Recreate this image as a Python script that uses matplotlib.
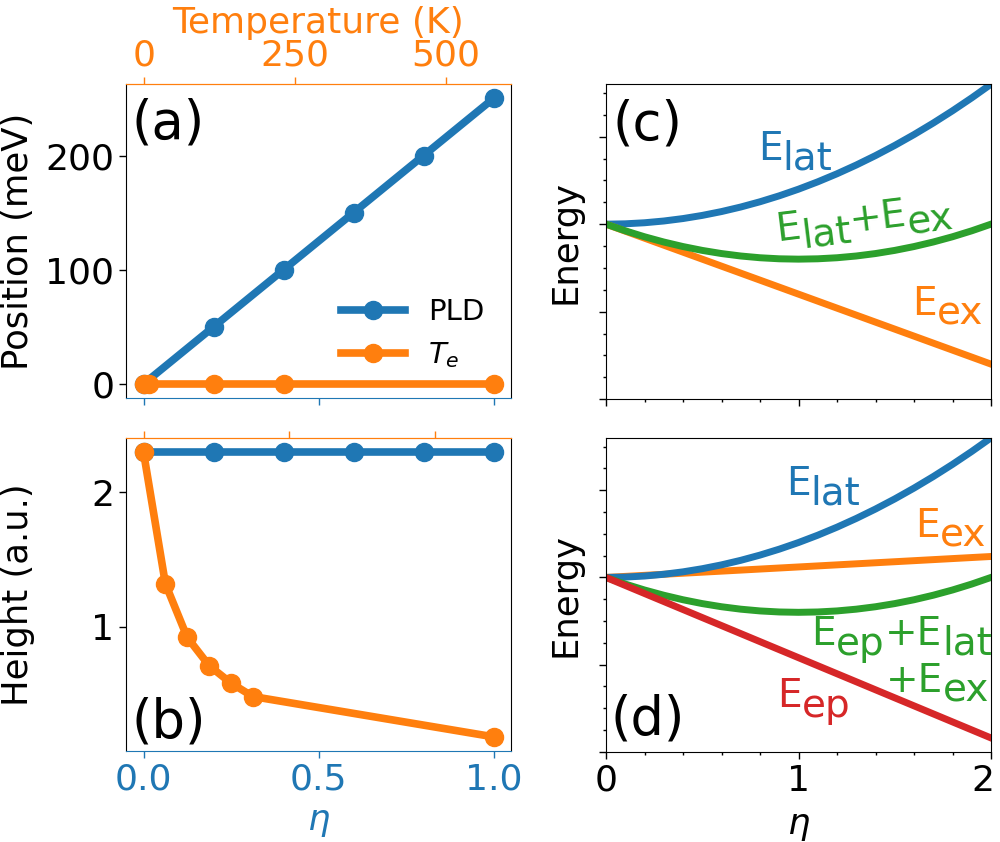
import matplotlib
matplotlib.use("Agg")
import matplotlib.pyplot as plt
from matplotlib.ticker import MultipleLocator
from matplotlib.font_manager import FontProperties
from matplotlib.transforms import offset_copy, ScaledTranslation
import numpy as np

# ---------------- data ----------------
# panel (a)
pld_eta = [0.0, 0.2, 0.4, 0.6, 0.8, 1.0]
pld_pos = [0, 50, 100, 150, 200, 250]
te_eta_a = [0.0, 0.017, 0.2, 0.4, 1.0]
te_pos = [0, 0, 0, 0, 0]
# panel (b)
pld_height = [2.30, 2.30, 2.30, 2.30, 2.30, 2.30]
te_eta_b = [0.0, 0.0625, 0.125, 0.1875, 0.25, 0.3125, 1.0]
te_height = [2.30, 1.32, 0.92, 0.71, 0.58, 0.48, 0.18]
# top temperature axes ranges (K)
temp_ticks = [0, 250, 500]
temp_lim_a = (-29.8, 607.6)
temp_lim_b = (-30.9, 630.6)

# panels (c), (d): energies
eta = [0.0, 0.1, 0.2, 0.3, 0.4, 0.5, 0.6, 0.7, 0.8, 0.9, 1.0,
       1.1, 1.2, 1.3, 1.4, 1.5, 1.6, 1.7, 1.8, 1.9, 2.0]
e_lat = [0.0, 0.004, 0.016, 0.036, 0.064, 0.100, 0.144, 0.196, 0.256, 0.324, 0.400,
         0.484, 0.576, 0.676, 0.784, 0.900, 1.024, 1.156, 1.296, 1.444, 1.600]
e_ex_c = [0.0, -0.08, -0.16, -0.24, -0.32, -0.40, -0.48, -0.56, -0.64, -0.72, -0.80,
          -0.88, -0.96, -1.04, -1.12, -1.20, -1.28, -1.36, -1.44, -1.52, -1.60]
e_sum_c = [0.0, -0.076, -0.144, -0.204, -0.256, -0.300, -0.336, -0.364, -0.384, -0.396, -0.400,
           -0.396, -0.384, -0.364, -0.336, -0.300, -0.256, -0.204, -0.144, -0.076, 0.0]
e_ex_d = [0.0, 0.012, 0.024, 0.036, 0.048, 0.060, 0.072, 0.084, 0.096, 0.108, 0.120,
          0.132, 0.144, 0.156, 0.168, 0.180, 0.192, 0.204, 0.216, 0.228, 0.240]
e_ep_d = [0.0, -0.092, -0.184, -0.276, -0.368, -0.460, -0.552, -0.644, -0.736, -0.828, -0.920,
          -1.012, -1.104, -1.196, -1.288, -1.380, -1.472, -1.564, -1.656, -1.748, -1.840]
e_sum_d = e_sum_c

BLUE = "#1f77b4"
ORANGE = "#ff7f0e"
GREEN = "#2ca02c"
RED = "#d62728"

TFS = 26   # tick labels
LFS = 25.5 # axis labels
plt.rcParams["font.family"] = ["DejaVu Sans"]
plt.rcParams["mathtext.fontset"] = "dejavusans"

fig = plt.figure(figsize=(10, 8.42), dpi=100)

axa = fig.add_axes([0.126, 0.527, 0.385, 0.373])
axb = fig.add_axes([0.126, 0.108, 0.385, 0.372])
axc = fig.add_axes([0.606, 0.526, 0.385, 0.374])
axd = fig.add_axes([0.606, 0.107, 0.385, 0.373])

LW = 5.5
MS = 13

# ---- (a) ----
axa.plot(pld_eta, pld_pos, "-o", color=BLUE, lw=LW, ms=MS, label="PLD")
axa.plot(te_eta_a, te_pos, "-o", color=ORANGE, lw=LW, ms=MS, label="$T_e$")
axa.set_xlim(-0.05, 1.05)
axa.set_ylim(-12.5, 262.5)
axa.set_yticks([0, 100, 200])
axa.set_xticks([0.0, 0.5, 1.0])
axa.tick_params(axis="x", colors=BLUE, labelbottom=False, length=5, width=1)
axa.tick_params(axis="y", labelsize=TFS, length=5, width=1)
axa.set_ylabel("Position (meV)", fontsize=LFS)
axa.yaxis.set_label_coords(-0.236, 0.5)
axa.spines["bottom"].set_color(BLUE)
axa.spines["top"].set_color(ORANGE)
axa.text(0.015, 0.828, "(a)", transform=axa.transAxes, fontsize=38, va="baseline", ha="left")
leg = axa.legend(loc="lower right", bbox_to_anchor=(1.0, 0.005), frameon=False,
                 fontsize=21, handlelength=2.2)

ta = axa.twiny()
ta.set_xlim(*temp_lim_a)
ta.set_xticks(temp_ticks)
ta.tick_params(axis="x", colors=ORANGE, labelsize=TFS, length=5, width=1)
ta.set_xlabel("Temperature (K)", color=ORANGE, fontsize=TFS)
for s in ["bottom", "left", "right"]:
    ta.spines[s].set_visible(False)
ta.spines["top"].set_color(ORANGE)

# ---- (b) ----
axb.plot(pld_eta, pld_height, "-o", color=BLUE, lw=LW, ms=MS)
axb.plot(te_eta_b, te_height, "-o", color=ORANGE, lw=LW, ms=MS)
axb.set_xlim(-0.05, 1.05)
axb.set_ylim(0.074, 2.406)
axb.set_yticks([1, 2])
axb.set_xticks([0.0, 0.5, 1.0])
axb.tick_params(axis="x", colors=BLUE, labelsize=TFS, length=5, width=1)
axb.tick_params(axis="y", labelsize=TFS, length=5, width=1)
axb.set_ylabel("Height (a.u.)", fontsize=LFS)
axb.yaxis.set_label_coords(-0.236, 0.5)
axb.set_xlabel(r"$\eta$", fontsize=LFS, color=BLUE, labelpad=6)
axb.spines["bottom"].set_color(BLUE)
axb.spines["top"].set_color(ORANGE)
axb.text(0.015, 0.042, "(b)", transform=axb.transAxes, fontsize=38, va="baseline", ha="left")

tb = axb.twiny()
tb.set_xlim(*temp_lim_b)
tb.set_xticks(temp_ticks)
tb.tick_params(axis="x", colors=ORANGE, labeltop=False, length=5, width=1)
for s in ["bottom", "left", "right"]:
    tb.spines[s].set_visible(False)
tb.spines["top"].set_color(ORANGE)

# ---- (c), (d) ----
LW2 = 5
axc.plot(eta, e_lat, color=BLUE, lw=LW2)
axc.plot(eta, e_ex_c, color=ORANGE, lw=LW2)
axc.plot(eta, e_sum_c, color=GREEN, lw=LW2)

axd.plot(eta, e_ex_d, color=ORANGE, lw=LW2)
axd.plot(eta, e_lat, color=BLUE, lw=LW2)
axd.plot(eta, e_sum_d, color=GREEN, lw=LW2)
axd.plot(eta, e_ep_d, color=RED, lw=LW2)

for ax in (axc, axd):
    ax.set_xlim(0, 2)
    ax.set_ylim(-2, 1.6)
    ax.xaxis.set_major_locator(MultipleLocator(1))
    ax.xaxis.set_minor_locator(MultipleLocator(0.2))
    ax.yaxis.set_major_locator(MultipleLocator(1))
    ax.yaxis.set_minor_locator(MultipleLocator(0.25))
    ax.tick_params(which="major", length=5, width=1, labelsize=TFS)
    ax.tick_params(which="minor", length=2.5, width=1)
    ax.tick_params(axis="y", which="both", labelleft=False)
    ax.set_ylabel("Energy", fontsize=LFS)
    ax.yaxis.set_label_coords(-0.06, 0.5)
axc.tick_params(axis="x", which="both", labelbottom=False)
axd.set_xlabel(r"$\eta$", fontsize=LFS, labelpad=8)
axc.text(0.016, 0.825, "(c)", transform=axc.transAxes, fontsize=38, va="baseline", ha="left")
axd.text(0.012, 0.054, "(d)", transform=axd.transAxes, fontsize=38, va="baseline", ha="left")

fig.canvas.draw()
renderer = fig.canvas.get_renderer()

# nudge the last x tick label of (d) so it stays inside the figure
for tick in axd.xaxis.get_major_ticks():
    if abs(tick.get_loc() - 2.0) < 1e-9:
        lab = tick.label1
        lab.set_transform(lab.get_transform() + ScaledTranslation(-6 / 72, 0, fig.dpi_scale_trans))

ESZ = 28
SUB = 9.5  # pixels the subscript is lowered


def elabel(ax, x, y, parts, color, rot=0.0):
    fp = FontProperties(family="DejaVu Sans", size=ESZ)
    dx = 0.0
    th = np.deg2rad(rot)
    for s, sub in parts:
        dy = -SUB if sub else 0.0
        ox = dx * np.cos(th) - dy * np.sin(th)
        oy = dx * np.sin(th) + dy * np.cos(th)
        tr = offset_copy(ax.transData, fig=fig, x=ox, y=oy, units="dots")
        ax.text(x, y, s, transform=tr, rotation=rot, rotation_mode="anchor",
                ha="left", va="baseline", fontsize=ESZ, color=color)
        w, h, d = renderer.get_text_width_height_descent(s, fp, ismath=False)
        dx += w


elabel(axc, 0.79, 0.73, [("E", 0), ("lat", 1)], BLUE)
elabel(axc, 0.89, -0.19, [("E", 0), ("lat", 1), ("+E", 0), ("ex", 1)], GREEN, rot=7)
elabel(axc, 1.59, -1.04, [("E", 0), ("ex", 1)], ORANGE)

elabel(axd, 0.935, 0.94, [("E", 0), ("lat", 1)], BLUE)
elabel(axd, 1.605, 0.465, [("E", 0), ("ex", 1)], ORANGE)
elabel(axd, 1.068, -0.775, [("E", 0), ("ep", 1), ("+E", 0), ("lat", 1)], GREEN)
elabel(axd, 1.455, -1.31, [("+E", 0), ("ex", 1)], GREEN)
elabel(axd, 0.89, -1.49, [("E", 0), ("ep", 1)], RED)

fig.savefig("out.png", dpi=100)
